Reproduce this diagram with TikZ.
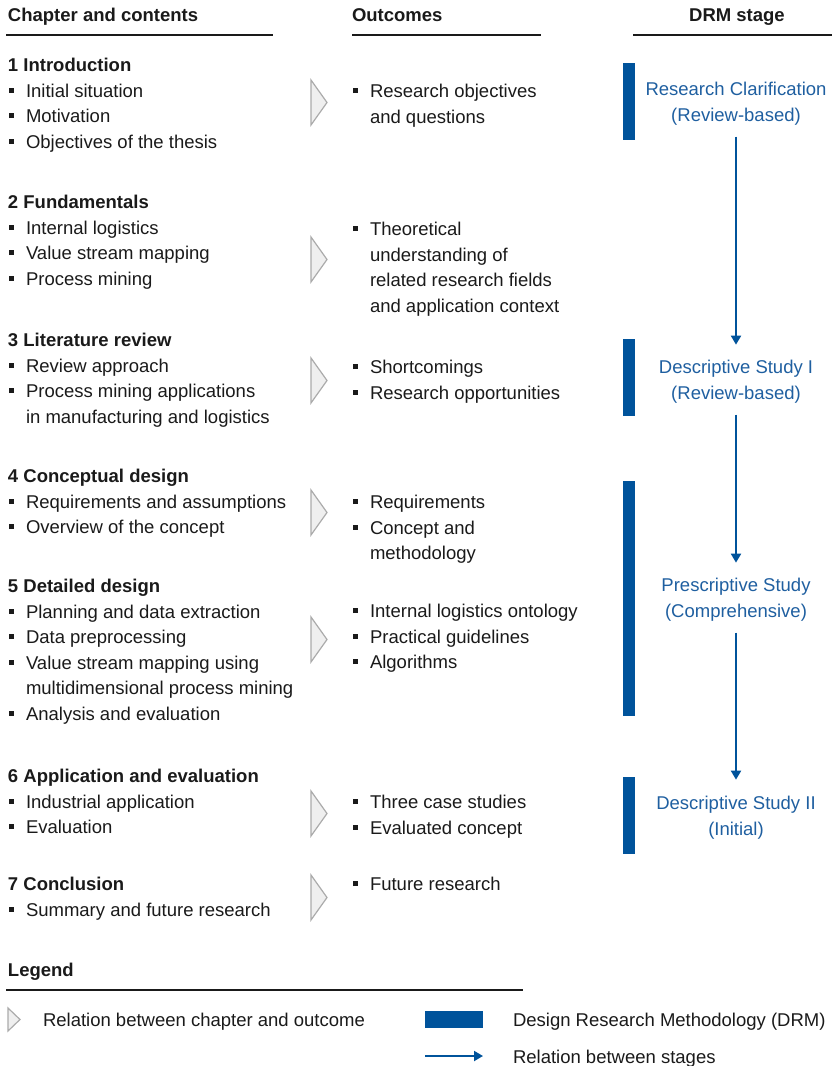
\documentclass[tikz,border=0pt]{standalone}
\usepackage{fontspec}
\setmainfont{Liberation Sans}
\usetikzlibrary{arrows.meta}
\definecolor{drmblue}{HTML}{00539B}
\definecolor{drmtext}{HTML}{1F5FA0}
\definecolor{chevfill}{HTML}{EFEFEF}
\definecolor{chevline}{HTML}{ABABAB}
\definecolor{ink}{HTML}{1A1A1A}
% square bullet with hanging text column
\newcommand\bul{\makebox[18pt][l]{\hspace{1pt}\rule[4.5pt]{5pt}{5pt}}}
\newcommand\cont{\hspace*{18pt}}
\newcommand\blk[1]{\begin{tabular}[t]{@{}l@{}}#1\end{tabular}}
\newcommand\cblk[1]{\begin{tabular}[t]{@{}c@{}}#1\end{tabular}}
\begin{document}
\begin{tikzpicture}[x=1pt,y=-1pt,
  every node/.style={inner sep=0pt,outer sep=0pt},
  txt/.style={anchor=base west,text=ink,font=\fontsize{18.5}{25.5}\selectfont},
  head/.style={txt,font=\fontsize{18.5}{25.5}\selectfont\bfseries},
  stage/.style={anchor=base,text=drmtext,font=\fontsize{18.5}{25.5}\selectfont},
  rulel/.style={draw=ink,line width=1.5pt},
  chev/.style={fill=chevfill,draw=chevline,line width=1.2pt,line join=miter},
  bar/.style={fill=drmblue,draw=none},
  stagearrow/.style={draw=drmblue,line width=2pt,-{Triangle[width=10pt,length=9pt]}},
  pics/chevron/.style args={#1}{code={\path[chev] (0,-#1) -- (16,0) -- (0,#1) -- cycle;}}
]
\useasboundingbox (0,0) rectangle (836,1066);

% column headings
\node[head] (hchap) at (8,21.5) {Chapter and contents};
\node[head] (hout) at (352,21.5) {Outcomes};
\node[head,anchor=base] (hdrm) at (737,21.5) {DRM stage};
\draw[rulel] (6,35) -- (273,35);
\draw[rulel] (352,35) -- (541,35);
\draw[rulel] (633,35) -- (832,35);

% chapters
\node[txt] (c1) at (8,71.5) {\blk{\textbf{1 Introduction}\\ \bul Initial situation\\ \bul Motivation\\ \bul Objectives of the thesis}};
\node[txt] (c2) at (8,208.5) {\blk{\textbf{2 Fundamentals}\\ \bul Internal logistics\\ \bul Value stream mapping\\ \bul Process mining}};
\node[txt] (c3) at (8,346.5) {\blk{\textbf{3 Literature review}\\ \bul Review approach\\ \bul Process mining applications\\ \cont in manufacturing and logistics}};
\node[txt] (c4) at (8,482.5) {\blk{\textbf{4 Conceptual design}\\ \bul Requirements and assumptions\\ \bul Overview of the concept}};
\node[txt] (c5) at (8,592.5) {\blk{\textbf{5 Detailed design}\\ \bul Planning and data extraction\\ \bul Data preprocessing\\ \bul Value stream mapping using\\ \cont multidimensional process mining\\ \bul Analysis and evaluation}};
\node[txt] (c6) at (8,782.5) {\blk{\textbf{6 Application and evaluation}\\ \bul Industrial application\\ \bul Evaluation}};
\node[txt] (c7) at (8,890.5) {\blk{\textbf{7 Conclusion}\\ \bul Summary and future research}};

% outcomes
\node[txt] (o1) at (352,97.5) {\blk{\bul Research objectives\\ \cont and questions}};
\node[txt] (o2) at (352,235.5) {\blk{\bul Theoretical\\ \cont understanding of\\ \cont related research fields\\ \cont and application context}};
\node[txt] (o3) at (352,373.5) {\blk{\bul Shortcomings\\ \bul Research opportunities}};
\node[txt] (o4) at (352,508.5) {\blk{\bul Requirements\\ \bul Concept and\\ \cont methodology}};
\node[txt] (o5) at (352,617.5) {\blk{\bul Internal logistics ontology\\ \bul Practical guidelines\\ \bul Algorithms}};
\node[txt] (o6) at (352,808.5) {\blk{\bul Three case studies\\ \bul Evaluated concept}};
\node[txt] (o7) at (352,890.5) {\blk{\bul Future research}};

% chapter -> outcome relations
\pic at (311,102.5) {chevron=22.5};
\pic at (311,259.5) {chevron=22.5};
\pic at (311,380.5) {chevron=22.5};
\pic at (311,512.5) {chevron=22.5};
\pic at (311,639.5) {chevron=22.5};
\pic at (311,813.5) {chevron=22.5};
\pic at (311,897.5) {chevron=22.5};

% DRM stages
\fill[bar] (623,63) rectangle (635,140);
\fill[bar] (623,339) rectangle (635,416);
\fill[bar] (623,481) rectangle (635,716);
\fill[bar] (623,777) rectangle (635,854);
\node[stage] (rc) at (736,95.5) {\cblk{Research Clarification\\(Review-based)}};
\node[stage] (ds1) at (736,373.5) {\cblk{Descriptive Study I\\(Review-based)}};
\node[stage] (ps) at (736,591.5) {\cblk{Prescriptive Study\\(Comprehensive)}};
\node[stage] (ds2) at (736,809.5) {\cblk{Descriptive Study II\\(Initial)}};
\draw[stagearrow,shorten <=8pt,shorten >=11pt] (rc.south) -- (ds1.north);
\draw[stagearrow,shorten <=8pt,shorten >=11pt] (ds1.south) -- (ps.north);
\draw[stagearrow,shorten <=8pt,shorten >=12pt] (ps.south) -- (ds2.north);

% legend
\node[head] (leg) at (8,976.5) {Legend};
\draw[rulel] (6,990) -- (523,990);
\path[chev] (8,1008) -- (20,1019.5) -- (8,1031) -- cycle;
\node[txt] (l1) at (43,1026.5) {Relation between chapter and outcome};
\fill[bar] (425,1011) rectangle (483,1028);
\node[txt] (l2) at (513,1026.5) {Design Research Methodology (DRM)};
\coordinate (la) at (425,1056);
\coordinate (lb) at (483,1056);
\draw[stagearrow] (la) -- (lb);
\node[txt] (l3) at (513,1063) {Relation between stages};
\end{tikzpicture}
\end{document}
